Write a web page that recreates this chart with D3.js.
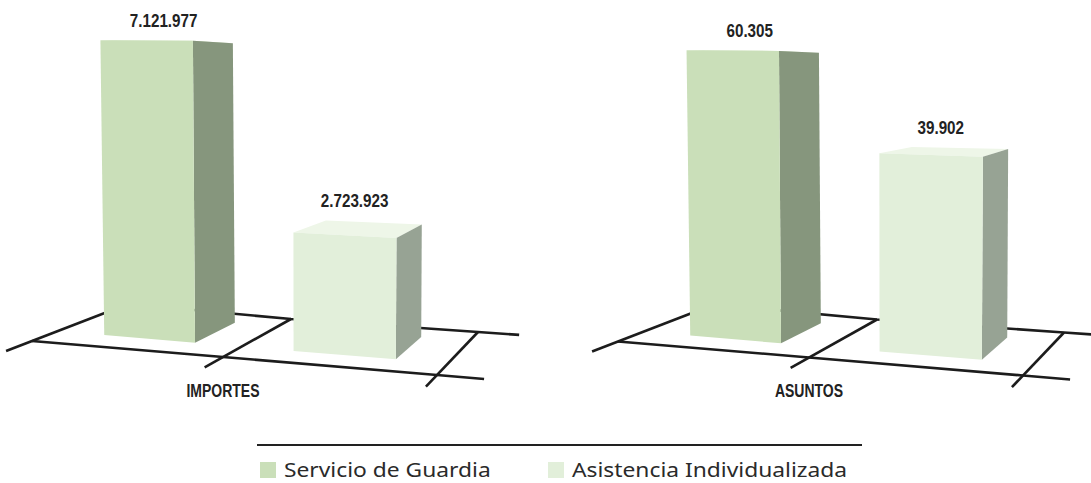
<!DOCTYPE html>
<html>
<head>
<meta charset="utf-8">
<script src="https://cdn.jsdelivr.net/npm/d3@7"></script>
<style>
  html, body { margin: 0; padding: 0; background: #ffffff; }
  svg { display: block; }
</style>
</head>
<body>
<svg id="chart" width="1091" height="483"></svg>
<script>
// ---------------- DATA ----------------
const categories = ["IMPORTES", "ASUNTOS"];
const series = ["Servicio de Guardia", "Asistencia Individualizada"];
const servicioGuardia = [7121977, 60305];
const asistenciaIndividualizada = [2723923, 39902];
const axisMax = [8000000, 70000];

// ---------------- LAYOUT / STYLE ----------------
const svg = d3.select("#chart");

const frontColors = ["#cadfb9", "#e2efda"];
const sideColors  = ["#86967d", "#97a394"];
const topColors   = ["#d8e8ca", "#eef6e8"];
const lineColor = "#1c1c1c";
const labelFont = "'Liberation Sans', Arial, sans-serif";

// floor corner points of one panel (perspective floor)
const floorBase = {
  FL: [32, 341], FM: [223, 357], FR: [437, 375],
  BL: [128, 304], BM: [291, 319], BR: [478, 332]
};
const panelOffset = d3.scaleBand().domain(categories).range([0, 1172]);
// full-axis pixel height as function of floor position (perspective)
const fullHeight = (s, t) => 339.8 + 16.7 * s - 48 * t;
const lean = s => -0.016 + 0.012 * s;

const depthFront = 0.27, depthBack = 0.8;
const tickOver = -0.27, sideOver = 2.22;

// series positions across the floor (two cells, units 0..2)
const xSeries = d3.scaleBand().domain(series).range([0, 2])
  .paddingInner(0.505).paddingOuter(0.2525);

const esLocale = d3.formatLocale({decimal: ",", thousands: ".", grouping: [3], currency: ["", " €"]});
const fmt = esLocale.format(",d");

function makeFloor(dx, dy) {
  const P = {};
  for (const k in floorBase) P[k] = [floorBase[k][0] + dx, floorBase[k][1] + dy];
  return function(s, t) {
    let A, B, C, D, u;
    if (s <= 1) { A = P.FL; B = P.FM; C = P.BM; D = P.BL; u = s; }
    else { A = P.FM; B = P.FR; C = P.BR; D = P.BM; u = s - 1; }
    const w1 = (1 - u) * (1 - t), w2 = u * (1 - t), w3 = u * t, w4 = (1 - u) * t;
    return [w1 * A[0] + w2 * B[0] + w3 * C[0] + w4 * D[0],
            w1 * A[1] + w2 * B[1] + w3 * C[1] + w4 * D[1]];
  };
}

const line = d3.line();
const poly = pts => line(pts) + "Z";

categories.forEach((cat, ci) => {
  const offX = panelOffset(cat), offY = ci * 0.5;
  const floor = makeFloor(offX, offY);
  const g = svg.append("g").attr("class", "panel");

  // floor lines
  const floorLines = [
    [floor(0, tickOver), floor(0, 1)],
    [floor(1, tickOver), floor(1, 1)],
    [floor(2, tickOver), floor(2, 1)],
    [floor(0, 0), floor(1, 0), floor(2, 0), floor(sideOver, 0)],
    [floor(0, 1), floor(1, 1), floor(2, 1), floor(sideOver, 1)]
  ];
  g.selectAll("path.floor").data(floorLines).join("path")
    .attr("class", "floor")
    .attr("d", d => line(d))
    .attr("fill", "none")
    .attr("stroke", lineColor)
    .attr("stroke-width", 2.6);

  const yScale = d3.scaleLinear().domain([0, axisMax[ci]]).range([0, 1]);
  const values = [servicioGuardia[ci], asistenciaIndividualizada[ci]];

  values.forEach((v, si) => {
    const s0 = xSeries(series[si]), s1 = s0 + xSeries.bandwidth();
    const f = yScale(v);
    const up = (s, t) => {
      const b = floor(s, t);
      const h = f * fullHeight(s, t);
      return [b[0] + h * lean(s), b[1] - h];
    };
    const FLb = floor(s0, depthFront), FRb = floor(s1, depthFront), BRb = floor(s1, depthBack);
    const FLt = up(s0, depthFront), FRt = up(s1, depthFront), BRt = up(s1, depthBack), BLt = up(s0, depthBack);
    const bar = g.append("g").attr("class", "bar");
    bar.append("path").attr("d", poly([FLt, FRt, BRt, BLt])).attr("fill", topColors[si]);
    bar.append("path").attr("d", poly([FRb, BRb, BRt, FRt])).attr("fill", sideColors[si]);
    bar.append("path").attr("d", poly([FLb, FRb, FRt, FLt])).attr("fill", frontColors[si]);

    const topY = Math.min(FLt[1], FRt[1], BRt[1], BLt[1]);
    const lx = (FLt[0] + BRt[0]) / 2 - 3, ly = topY - 13;
    g.append("text")
      .attr("transform", `translate(${lx},${ly}) scale(0.8,1)`)
      .attr("text-anchor", "middle")
      .attr("font-family", labelFont)
      .attr("font-weight", "bold")
      .attr("font-size", 19)
      .attr("fill", "#222")
      .text(fmt(v));
  });

  const fm = floor(1, 0);
  g.append("text")
    .attr("transform", `translate(${fm[0]},397) scale(0.8,1)`)
    .attr("text-anchor", "middle")
    .attr("font-family", labelFont)
    .attr("font-weight", "bold")
    .attr("font-size", 17.5)
    .attr("fill", "#222")
    .text(cat);
});

// ---------------- LEGEND ----------------
const legend = svg.append("g").attr("class", "legend");
legend.append("line")
  .attr("x1", 257).attr("x2", 862).attr("y1", 445).attr("y2", 445)
  .attr("stroke", "#222").attr("stroke-width", 2);
const legendX = [260, 548];
const items = legend.selectAll("g.item").data(series).join("g")
  .attr("class", "item")
  .attr("transform", (d, i) => `translate(${legendX[i]},0)`);
items.append("rect")
  .attr("x", 0).attr("y", 462).attr("width", 16).attr("height", 16)
  .attr("fill", (d, i) => frontColors[i]);
items.append("text")
  .attr("transform", "translate(24,477) scale(1.14,1)")
  .attr("font-family", "'Noto Sans', 'Open Sans', sans-serif")
  .attr("font-size", 20)
  .attr("fill", "#2a2a2a")
  .text(d => d);
</script>
</body>
</html>
